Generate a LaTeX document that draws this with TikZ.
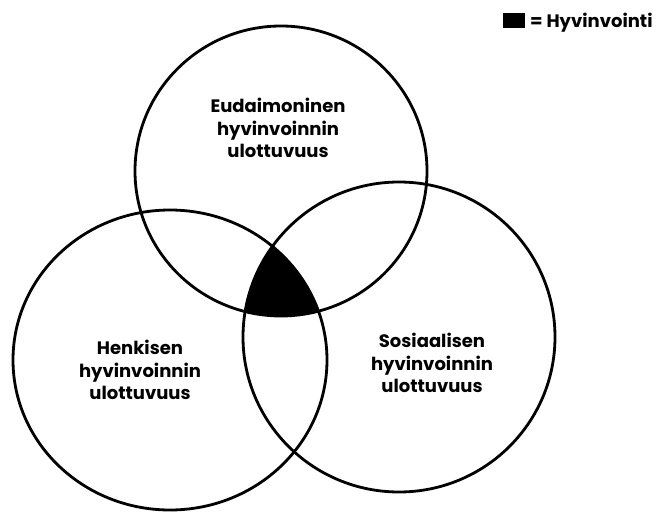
\documentclass[tikz,border=0pt]{standalone}
\usepackage{fontspec}
\setmainfont{Poppins}
\begin{document}
\begin{tikzpicture}[x=1pt,y=-1pt,
  ring/.style={line width=2.8pt,draw=black},
  lbl/.style={align=center,font=\bfseries\fontsize{18}{22.5}\selectfont,inner sep=0pt}]
\useasboundingbox (0,0) rectangle (666,511);
\fill[white] (0,0) rectangle (666,511);
% shaded common region
\begin{scope}
  \clip (281,171) ellipse [x radius=146, y radius=145];
  \clip (170,360) ellipse [x radius=157, y radius=150];
  \fill[black] (399,337) ellipse [x radius=156, y radius=155];
\end{scope}
\draw[ring] (281,171) ellipse [x radius=146, y radius=145];
\draw[ring] (170,360) ellipse [x radius=157, y radius=150];
\draw[ring] (399,337) ellipse [x radius=156, y radius=155];
\node[lbl] (eud) at (278,128) {Eudaimoninen\\hyvinvoinnin\\ulottuvuus};
\node[lbl] (hen) at (140,370) {Henkisen\\hyvinvoinnin\\ulottuvuus};
\node[lbl] (sos) at (432,363) {Sosiaalisen\\hyvinvoinnin\\ulottuvuus};
\fill[black] (503,13) rectangle (525,28);
\node[lbl,anchor=base west] (leg) at (530,28) {= Hyvinvointi};
\end{tikzpicture}
\end{document}
